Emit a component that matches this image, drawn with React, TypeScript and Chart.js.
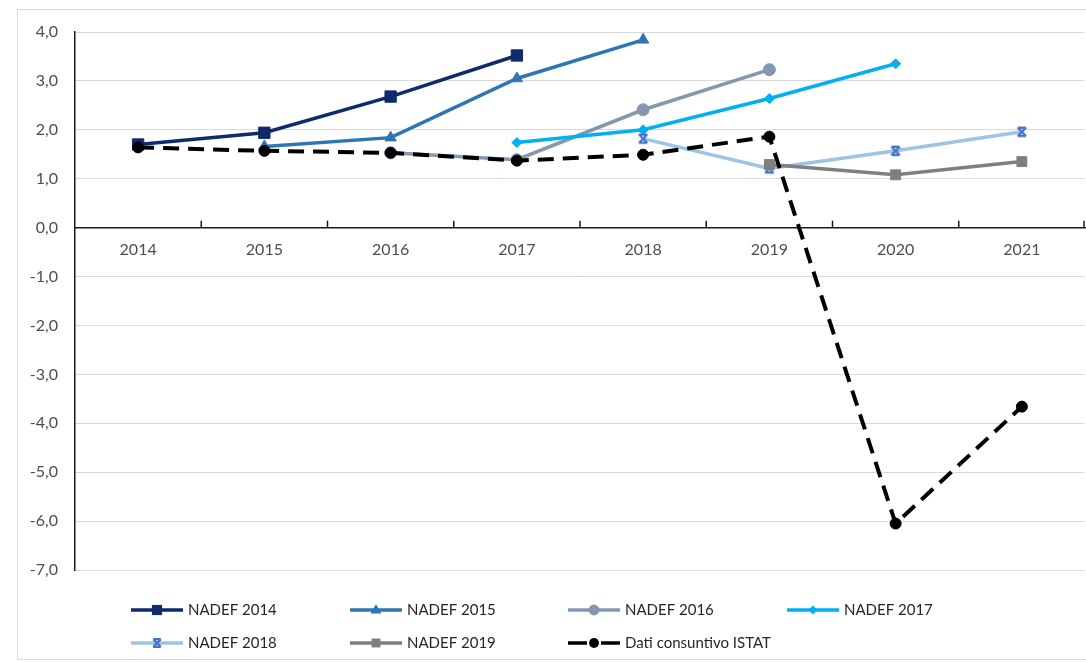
import React, { useEffect, useRef } from "react";
import { Chart, registerables } from "chart.js";

Chart.register(...registerables);

const years = ["2014", "2015", "2016", "2017", "2018", "2019", "2020", "2021"];
const nadef2014 = [1.7, 1.94, 2.68, 3.52, null, null, null, null];
const nadef2015 = [null, 1.66, 1.84, 3.05, 3.84, null, null, null];
const nadef2016 = [null, null, 1.53, 1.39, 2.41, 3.23, null, null];
const nadef2017 = [null, null, null, 1.74, 2.0, 2.64, 3.35, null];
const nadef2018 = [null, null, null, null, 1.82, 1.21, 1.57, 1.96];
const nadef2019 = [null, null, null, null, null, 1.29, 1.08, 1.35];
const istat = [1.64, 1.57, 1.53, 1.37, 1.49, 1.86, -6.05, -3.66];
const seriesNames = ["NADEF 2014", "NADEF 2015", "NADEF 2016", "NADEF 2017", "NADEF 2018", "NADEF 2019", "Dati consuntivo ISTAT"];

const FONT = "Lato, 'Liberation Sans', sans-serif";

type Sty = { line: string; pt: string; style: string; r: number; dash?: number[]; bw?: number };
const styles: Sty[] = [
  { line: "#0f2b6b", pt: "#0f2b6b", style: "rect", r: 8 },
  { line: "#2e75b6", pt: "#2e75b6", style: "triangle", r: 6.5 },
  { line: "#8497b0", pt: "#8497b0", style: "circle", r: 6 },
  { line: "#00b0f0", pt: "#00b0f0", style: "rectRot", r: 5 },
  { line: "#9dc3e6", pt: "#4472c4", style: "hourglass", r: 6 },
  { line: "#7f7f7f", pt: "#7f7f7f", style: "rect", r: 7 },
  { line: "#000000", pt: "#000000", style: "circle", r: 5.5, dash: [16, 9] },
];

function drawMarker(ctx: CanvasRenderingContext2D, s: Sty, x: number, y: number, scale = 1) {
  ctx.save();
  ctx.fillStyle = s.pt;
  ctx.strokeStyle = s.pt;
  ctx.setLineDash([]);
  const r = s.r * scale;
  if (s.style === "rect") {
    const h = r * Math.SQRT1_2;
    ctx.fillRect(x - h, y - h, 2 * h, 2 * h);
  } else if (s.style === "circle") {
    ctx.beginPath();
    ctx.arc(x, y, r, 0, Math.PI * 2);
    ctx.fill();
  } else if (s.style === "triangle") {
    ctx.beginPath();
    ctx.moveTo(x, y - r);
    ctx.lineTo(x + r * 0.95, y + r * 0.6);
    ctx.lineTo(x - r * 0.95, y + r * 0.6);
    ctx.closePath();
    ctx.fill();
  } else if (s.style === "rectRot") {
    ctx.beginPath();
    ctx.moveTo(x, y - r);
    ctx.lineTo(x + r, y);
    ctx.lineTo(x, y + r);
    ctx.lineTo(x - r, y);
    ctx.closePath();
    ctx.fill();
  } else if (s.style === "hourglass") {
    ctx.lineWidth = 2.2;
    ctx.beginPath();
    const d = r * 0.7;
    ctx.moveTo(x - d, y - d); ctx.lineTo(x + d, y + d);
    ctx.moveTo(x + d, y - d); ctx.lineTo(x - d, y + d);
    ctx.moveTo(x - d, y - d); ctx.lineTo(x + d, y - d);
    ctx.moveTo(x - d, y + d); ctx.lineTo(x + d, y + d);
    ctx.stroke();
  }
  ctx.restore();
}

function makeHourglass(s: Sty): HTMLCanvasElement {
  const c = document.createElement("canvas");
  const size = Math.ceil(s.r * 2 + 4);
  c.width = size;
  c.height = size;
  const ctx = c.getContext("2d")!;
  drawMarker(ctx, s, size / 2, size / 2);
  return c;
}

const legendPlugin = {
  id: "customLegend",
  afterDraw(chart: any) {
    const ctx: CanvasRenderingContext2D = chart.ctx;
    const colX = [131, 350, 568, 787];
    const rowY = [610, 643];
    seriesNames.forEach((name, i) => {
      const s = styles[i];
      const x = colX[i % 4];
      const y = rowY[Math.floor(i / 4)];
      ctx.save();
      ctx.strokeStyle = s.line;
      ctx.lineWidth = 3.5;
      if (s.dash) ctx.setLineDash([19, 14]);
      ctx.beginPath();
      ctx.moveTo(x, y);
      ctx.lineTo(x + 52, y);
      ctx.stroke();
      ctx.restore();
      drawMarker(ctx, s, x + 26, y, 0.9);
      ctx.save();
      ctx.fillStyle = "#262626";
      ctx.font = `15px ${FONT}`;
      ctx.textBaseline = "middle";
      ctx.textAlign = "left";
      ctx.fillText(name, x + 57, y);
      ctx.restore();
    });
  },
};

const tickPlugin = {
  id: "xTicks",
  afterDatasetsDraw(chart: any) {
    const ctx: CanvasRenderingContext2D = chart.ctx;
    const x = chart.scales.x;
    const y0 = chart.scales.y.getPixelForValue(0);
    const n = years.length;
    ctx.save();
    ctx.strokeStyle = "#1a1a1a";
    ctx.lineWidth = 1.5;
    for (let i = 1; i <= n; i++) {
      const px = i < n ? (x.getPixelForValue(i - 1) + x.getPixelForValue(i)) / 2 : chart.chartArea.right - 1;
      ctx.beginPath();
      ctx.moveTo(px, y0 - 7);
      ctx.lineTo(px, y0);
      ctx.stroke();
    }
    ctx.restore();
  },
};

const frameBg = {
  id: "bg",
  beforeDraw(chart: any) {
    const ctx: CanvasRenderingContext2D = chart.ctx;
    ctx.save();
    ctx.fillStyle = "#ffffff";
    ctx.fillRect(0, 0, chart.width, chart.height);
    ctx.strokeStyle = "#d9d9d9";
    ctx.lineWidth = 1;
    ctx.strokeRect(17.5, 9.5, chart.width + 10, 650);
    ctx.restore();
  },
};

const CANVAS_W = 1094;

export default function App() {
  const ref = useRef<HTMLCanvasElement>(null);
  useEffect(() => {
    if (!ref.current) return;
    const all = [nadef2014, nadef2015, nadef2016, nadef2017, nadef2018, nadef2019, istat];
    const chart = new Chart(ref.current, {
      type: "line",
      data: {
        labels: years,
        datasets: all.map((d, i) => {
          const s = styles[i];
          return {
            label: seriesNames[i],
            data: d,
            borderColor: s.line,
            backgroundColor: s.pt,
            borderWidth: s.dash ? 4 : 3.5,
            borderDash: s.dash || [],
            pointStyle: (s.style === "hourglass" ? makeHourglass(s) : s.style) as any,
            pointRadius: s.r,
            pointBackgroundColor: s.pt,
            pointBorderColor: s.pt,
            pointBorderWidth: 1,
            tension: 0,
            spanGaps: false,
            order: 7 - i,
          };
        }),
      },
      options: {
        animation: false,
        responsive: false,
        maintainAspectRatio: false,
        layout: { padding: { left: 0, top: 32, right: 1, bottom: 93 } },
        plugins: { legend: { display: false }, tooltip: { enabled: false } },
        scales: {
          x: {
            position: { y: 0 } as any,
            offset: true,
            afterFit: (s: any) => { s.paddingLeft = 0; s.paddingRight = 0; },
            grid: { display: false, drawOnChartArea: false, drawTicks: false },
            border: { display: true, color: "#1a1a1a", width: 1.5 },
            ticks: { color: "#4d4d4d", font: { size: 16, family: FONT }, padding: 13, maxRotation: 0 },
          },
          y: {
            min: -7,
            max: 4,
            afterFit: (s: any) => { s.width = 75; s.paddingTop = 0; s.paddingBottom = 0; },
            grid: { color: "#d9d9d9", lineWidth: 1, drawTicks: false },
            border: { display: true, color: "#1a1a1a", width: 1.5 },
            ticks: {
              stepSize: 1,
              color: "#4d4d4d",
              font: { size: 16, family: FONT },
              padding: 17,
              callback: (v: any) => Number(v).toFixed(1).replace(".", ","),
            },
          },
        },
      },
      plugins: [frameBg, tickPlugin, legendPlugin],
    });
    return () => chart.destroy();
  }, []);
  return (
    <div style={{ position: "fixed", left: 0, top: 0, width: 1086, height: 663, background: "#fff", overflow: "hidden" }}>
      <canvas ref={ref} width={CANVAS_W} height={663} style={{ display: "block", width: CANVAS_W, height: 663 }} />
    </div>
  );
}
